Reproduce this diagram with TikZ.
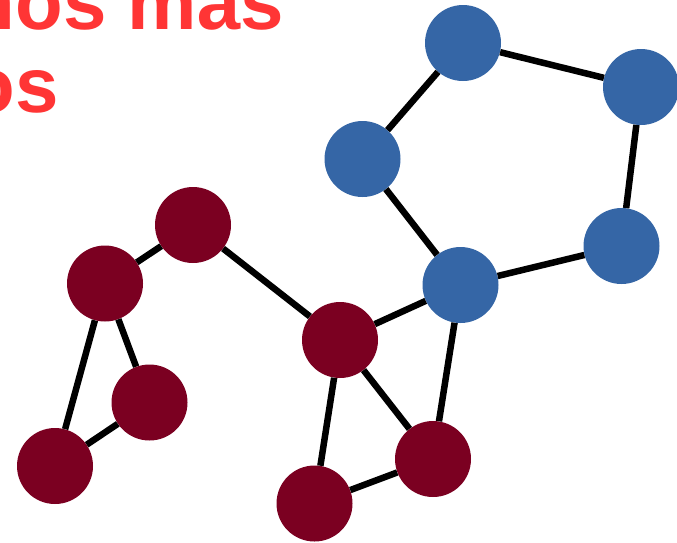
\documentclass[tikz,border=0pt]{standalone}
\usepackage{fontspec}
\setmainfont{Liberation Sans}
\definecolor{nodeblue}{HTML}{3566A6}
\definecolor{nodered}{HTML}{7B0021}
\definecolor{titlered}{HTML}{FF3535}
\begin{document}
\begin{tikzpicture}[x=1pt,y=-1pt,
  bn/.style={circle,fill=nodeblue,minimum size=76pt,inner sep=0pt},
  rn/.style={circle,fill=nodered,minimum size=76pt,inner sep=0pt},
  edge/.style={line width=6.5pt,black},
  title/.style={anchor=base west,text=titlered,inner sep=0pt,font=\fontsize{78}{83}\selectfont\bfseries}]
\useasboundingbox (0,0) rectangle (677,542);
\clip (0,0) rectangle (677,542);
\node[title] (t1) at (-32.5,29) {nos más};
\node[title] (t2) at (-32.5,112) {os};
% blue nodes
\node[bn] (b1) at (463,43) {};
\node[bn] (b2) at (641,87) {};
\node[bn] (b3) at (362.5,159) {};
\node[bn] (b4) at (621.5,246) {};
\node[bn] (b5) at (460.5,285) {};
% red nodes
\node[rn] (r1) at (193,225) {};
\node[rn] (r2) at (105,283.5) {};
\node[rn] (r3) at (340,340) {};
\node[rn] (r4) at (149.5,402.5) {};
\node[rn] (r5) at (55,466) {};
\node[rn] (r6) at (433,459) {};
\node[rn] (r7) at (314.5,503.5) {};
% edges
\draw[edge] (b1) -- (b2);
\draw[edge] (b1) -- (b3);
\draw[edge] (b2) -- (b4);
\draw[edge] (b3) -- (b5);
\draw[edge] (b4) -- (b5);
\draw[edge] (b5) -- (r3);
\draw[edge] (b5) -- (r6);
\draw[edge] (r1) -- (r2);
\draw[edge] (r1) -- (r3);
\draw[edge] (r2) -- (r4);
\draw[edge] (r2) -- (r5);
\draw[edge] (r4) -- (r5);
\draw[edge] (r3) -- (r6);
\draw[edge] (r3) -- (r7);
\draw[edge] (r6) -- (r7);
\end{tikzpicture}
\end{document}
